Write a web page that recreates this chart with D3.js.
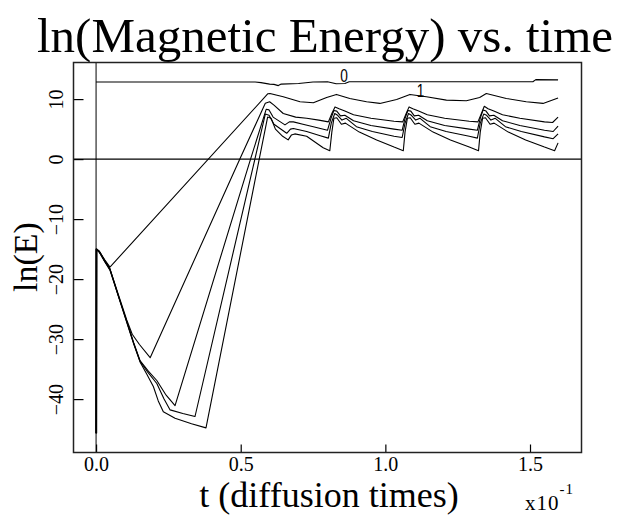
<!DOCTYPE html>
<html>
<head>
<meta charset="utf-8">
<script src="https://cdn.jsdelivr.net/npm/d3@7"></script>
<style>
  body { margin: 0; background: #fff; }
</style>
</head>
<body>
<svg id="chart" width="618" height="516"></svg>
<script>
// Axis ticks
const xTicks = [0, 0.5, 1.0, 1.5];
const xTickLabels = ["0.0", "0.5", "1.0", "1.5"];
const yTicks = [10, 0, -10, -20, -30, -40];

// ln(E) against t, one run per mode: [t, lnE]
const series0 = [[0,12.85],[0.3,12.85],[0.55,12.85],[0.57,12.75],[0.6,12.5],[0.615,12.45],[0.63,12.25],[0.64,12.5],[0.7,12.6],[0.75,12.85],[0.8,12.9],[0.83,12.55],[0.86,12.6],[0.875,12.9],[1.0,12.9],[1.2,12.9],[1.51,12.9],[1.52,13.25],[1.597,13.2]];

const series1 = [[0,-45.7],[0.001,-15.0],[0.01,-15.3],[0.03,-16.8],[0.048,-18.0],[0.594,10.9],[0.601,10.94],[0.647,10.39],[0.705,9.56],[0.751,9.39],[0.797,10.28],[0.831,10.78],[0.877,10.11],[0.935,9.56],[0.981,9.28],[1.039,9.94],[1.085,10.78],[1.142,10.39],[1.211,9.83],[1.28,9.72],[1.326,10.28],[1.349,10.94],[1.418,10.11],[1.487,9.56],[1.545,9.28],[1.597,10.2]];

const series2 = [[0.002,-45.7],[0.003,-15.0],[0.012,-15.4],[0.03,-16.9],[0.048,-18.3],[0.08,-23.0],[0.106,-26.8],[0.125,-29.2],[0.15,-30.9],[0.187,-33.1],[0.497,0],[0.585,9.3],[0.6,9.55],[0.615,9.0],[0.647,7.6],[0.69,7.0],[0.728,6.8],[0.77,6.5],[0.803,6.2],[0.815,7.6],[0.826,8.7],[0.84,8.4],[0.86,8.0],[0.89,7.4],[0.95,6.8],[1.03,6.3],[1.06,6.2],[1.072,7.6],[1.082,8.7],[1.095,8.4],[1.115,8.0],[1.145,7.4],[1.205,6.8],[1.29,6.3],[1.32,6.2],[1.332,7.6],[1.342,8.8],[1.355,8.4],[1.375,8.0],[1.405,7.4],[1.465,6.8],[1.55,6.2],[1.578,6.1],[1.597,7.0]];

const series3 = [[0.001,-45.7],[0.002,-15.0],[0.012,-15.5],[0.03,-17.0],[0.048,-18.3],[0.08,-23.2],[0.106,-27.0],[0.13,-30.6],[0.152,-33.6],[0.18,-35.3],[0.21,-36.9],[0.24,-39.2],[0.273,-41.1],[0.534,0],[0.588,8.3],[0.598,8.2],[0.612,7.0],[0.653,5.7],[0.668,6.2],[0.682,6.2],[0.715,5.8],[0.751,5.4],[0.8,4.8],[0.812,6.8],[0.822,8.1],[0.832,8.0],[0.845,7.2],[0.86,7.3],[0.89,6.4],[0.95,5.6],[1.03,5.0],[1.058,4.8],[1.068,6.8],[1.078,8.1],[1.088,8.0],[1.1,7.2],[1.115,7.3],[1.145,6.4],[1.205,5.6],[1.29,5.0],[1.318,4.8],[1.328,6.8],[1.338,8.2],[1.348,8.0],[1.36,7.2],[1.375,7.3],[1.405,6.4],[1.465,5.6],[1.55,4.8],[1.58,4.6],[1.597,5.5]];

const series4 = [[0,-45.7],[0.001,-15.0],[0.012,-15.5],[0.03,-17.0],[0.048,-18.4],[0.08,-23.2],[0.106,-27.1],[0.13,-30.7],[0.152,-33.7],[0.18,-35.6],[0.21,-37.4],[0.235,-40.0],[0.256,-41.8],[0.3,-42.4],[0.342,-42.9],[0.549,0],[0.585,7.5],[0.598,7.3],[0.615,5.8],[0.659,4.3],[0.672,5.0],[0.682,5.1],[0.728,4.6],[0.775,3.9],[0.803,3.5],[0.813,6.0],[0.825,7.6],[0.835,7.3],[0.85,6.5],[0.865,6.8],[0.9,5.4],[0.955,4.6],[1.03,3.8],[1.058,3.6],[1.068,6.0],[1.08,7.6],[1.09,7.3],[1.105,6.5],[1.12,6.8],[1.155,5.4],[1.21,4.6],[1.29,3.8],[1.318,3.5],[1.328,6.0],[1.34,7.5],[1.35,7.3],[1.365,6.5],[1.38,6.8],[1.415,5.4],[1.47,4.6],[1.55,3.7],[1.58,3.4],[1.597,4.2]];

const series5 = [[0,-45.7],[0,-15.0],[0.012,-15.6],[0.03,-17.1],[0.048,-18.5],[0.08,-23.3],[0.106,-27.2],[0.13,-30.8],[0.152,-33.8],[0.175,-35.8],[0.198,-37.9],[0.215,-40.3],[0.2325,-42.1],[0.273,-43.2],[0.33,-44.1],[0.38,-44.8],[0.564,0],[0.593,7.0],[0.605,6.8],[0.62,5.0],[0.645,3.8],[0.664,3.2],[0.675,4.0],[0.687,4.2],[0.728,3.8],[0.785,1.9],[0.808,1.4],[0.815,4.5],[0.822,6.8],[0.832,6.9],[0.848,5.8],[0.862,6.0],[0.91,4.5],[0.97,3.2],[1.03,2.0],[1.062,1.4],[1.068,4.5],[1.076,6.8],[1.086,6.9],[1.102,5.8],[1.116,6.0],[1.165,4.5],[1.225,3.2],[1.29,2.0],[1.322,1.4],[1.328,4.5],[1.336,6.8],[1.346,6.9],[1.362,5.8],[1.376,6.0],[1.425,4.5],[1.485,3.2],[1.55,2.0],[1.585,1.4],[1.597,2.7]];

const allSeries = [series0, series1, series2, series3, series4, series5];

// Run labels written on the curves
const curveLabels = [
  { name: "0", t: 0.857, v: 12.9 },
  { name: "1", t: 1.122, v: 10.3 }
];

const SERIF = "Liberation Serif";
const svg = d3.select("#chart");
const frame = { left: 73.5, right: 581.5, top: 62.5, bottom: 452.5 };

const x = d3.scaleLinear().domain([-0.078, 1.678]).range([frame.left, frame.right]);
const y = d3.scaleLinear().domain([-48.9, 16.1]).range([frame.bottom, frame.top]);

// Title
svg.append("text")
  .attr("x", 325).attr("y", 52)
  .attr("text-anchor", "middle")
  .style("font-family", SERIF)
  .style("font-size", "49px")
  .text("ln(Magnetic Energy) vs. time");

// Zero reference lines
svg.append("line")
  .attr("x1", x.range()[0]).attr("x2", x.range()[1])
  .attr("y1", y(0)).attr("y2", y(0))
  .attr("stroke", "#000").attr("stroke-width", 1.2);
svg.append("line")
  .attr("x1", x(0)).attr("x2", x(0))
  .attr("y1", y.range()[0]).attr("y2", y.range()[1])
  .attr("stroke", "#000").attr("stroke-width", 1);

// Curves
const line = d3.line().x(d => x(d[0])).y(d => y(d[1]));
svg.append("g")
  .selectAll("path")
  .data(allSeries)
  .join("path")
  .attr("d", line)
  .attr("fill", "none")
  .attr("stroke", "#000")
  .attr("stroke-width", 1.1)
  .attr("stroke-linejoin", "round");

// Curve labels (narrow glyphs)
svg.append("g")
  .selectAll("text")
  .data(curveLabels)
  .join("text")
  .attr("transform", d => `translate(${x(d.t)},${y(d.v)}) scale(0.72,1)`)
  .attr("text-anchor", "middle")
  .style("font-family", "Liberation Sans")
  .style("font-size", "19px")
  .attr("fill", "#000")
  .text(d => d.name);

// Bottom axis (ticks point inward)
const gx = svg.append("g")
  .attr("transform", `translate(0,${frame.bottom})`)
  .call(d3.axisBottom(x).tickValues(xTicks)
    .tickFormat((d, i) => xTickLabels[i])
    .tickSizeInner(-8).tickSizeOuter(0).tickPadding(4));
gx.select(".domain").remove();
gx.selectAll(".tick line").attr("stroke", "#000").attr("stroke-width", 1.2);
gx.selectAll(".tick text").attr("fill", "#000")
  .style("font-family", SERIF).style("font-size", "20px");

// Left axis with rotated labels
const gy = svg.append("g")
  .attr("transform", `translate(${frame.left},0)`)
  .call(d3.axisLeft(y).tickValues(yTicks).tickSizeInner(-10).tickSizeOuter(0));
gy.select(".domain").remove();
gy.selectAll(".tick line").attr("stroke", "#000").attr("stroke-width", 1.2);
gy.selectAll(".tick text")
  .attr("x", null).attr("dy", null)
  .attr("text-anchor", "middle")
  .attr("transform", "translate(-11,0) rotate(-90)")
  .attr("fill", "#000")
  .style("font-family", SERIF).style("font-size", "20px");

// Plot frame
svg.append("rect")
  .attr("x", frame.left).attr("y", frame.top)
  .attr("width", frame.right - frame.left).attr("height", frame.bottom - frame.top)
  .attr("fill", "none").attr("stroke", "#222").attr("stroke-width", 1.5);

// Axis titles
svg.append("text")
  .attr("x", 329).attr("y", 507)
  .attr("text-anchor", "middle")
  .style("font-family", SERIF).style("font-size", "36px")
  .text("t (diffusion times)");

svg.append("text")
  .attr("transform", "translate(37,257) rotate(-90)")
  .attr("text-anchor", "middle")
  .style("font-family", SERIF).style("font-size", "34px")
  .text("ln(E)");

// Scale factor note on the time axis
const sf = svg.append("text").attr("x", 525).attr("y", 510)
  .style("font-family", SERIF).style("font-size", "21px").attr("letter-spacing", 1);
sf.append("tspan").text("x10");
sf.append("tspan").attr("dy", -16).style("font-size", "15px").text("-1");
</script>
</body>
</html>
